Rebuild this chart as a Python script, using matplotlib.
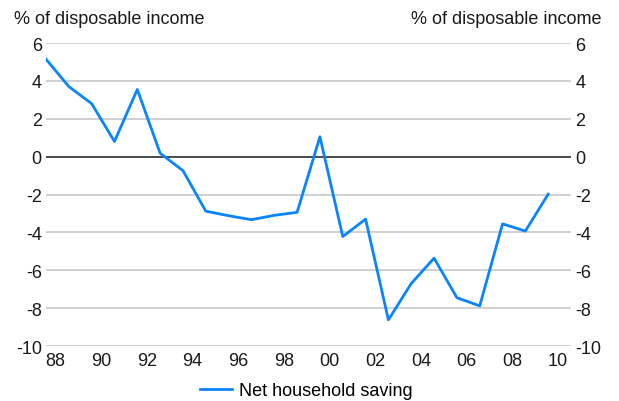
import matplotlib.pyplot as plt
import numpy as np

plt.rcParams['font.family'] = ['Liberation Sans', 'DejaVu Sans']
plt.rcParams['axes.unicode_minus'] = False

# dados (1988 a 2010)
years = list(range(1988, 2011))
saving = [5.15, 3.7, 2.8, 0.8, 3.55, 0.18, -0.74, -2.88, -3.12, -3.33, -3.1,
          -2.94, 1.05, -4.22, -3.3, -8.62, -6.7, -5.36, -7.45, -7.88, -3.55,
          -3.93, -1.98]
tick_labels = ['88', '90', '92', '94', '96', '98', '00', '02', '04', '06', '08', '10']

fig = plt.figure(figsize=(6.19, 4.02), dpi=100)
ax = fig.add_axes([0.0743, 0.1368, 0.8482, 0.7537])

x = np.arange(len(years))

ax.set_xlim(0, 23)
ax.set_ylim(-10, 6)
ax.set_yticks(range(-10, 7, 2))
ax.yaxis.grid(True, color='#c8c8c8', linewidth=1.2)
ax.set_axisbelow(True)
ax.axhline(0, color='#404040', linewidth=1.3, zorder=2)

ax.plot(x, saving, color='#0a84ff', linewidth=2.0, label='Net household saving', zorder=3)

ax.set_xticks(x[::2] + 0.42)
ax.set_xticklabels(tick_labels)

for s in ax.spines.values():
    s.set_visible(False)

ax.tick_params(axis='both', length=0, labelsize=13, colors='#1a1a1a')
ax.tick_params(axis='x', pad=4)
ax.tick_params(axis='y', pad=3, labelright=True, labelleft=True)

fig.text(0.023, 0.952, '% of disposable income', fontsize=13, ha='left', va='center', color='#1a1a1a')
fig.text(0.971, 0.952, '% of disposable income', fontsize=13, ha='right', va='center', color='#1a1a1a')

ax.legend(loc='center', bbox_to_anchor=(0.496, -0.148), frameon=False, fontsize=13,
          handlelength=1.8, handletextpad=0.4, borderpad=0, borderaxespad=0)

fig.savefig('out.png', dpi=100)
